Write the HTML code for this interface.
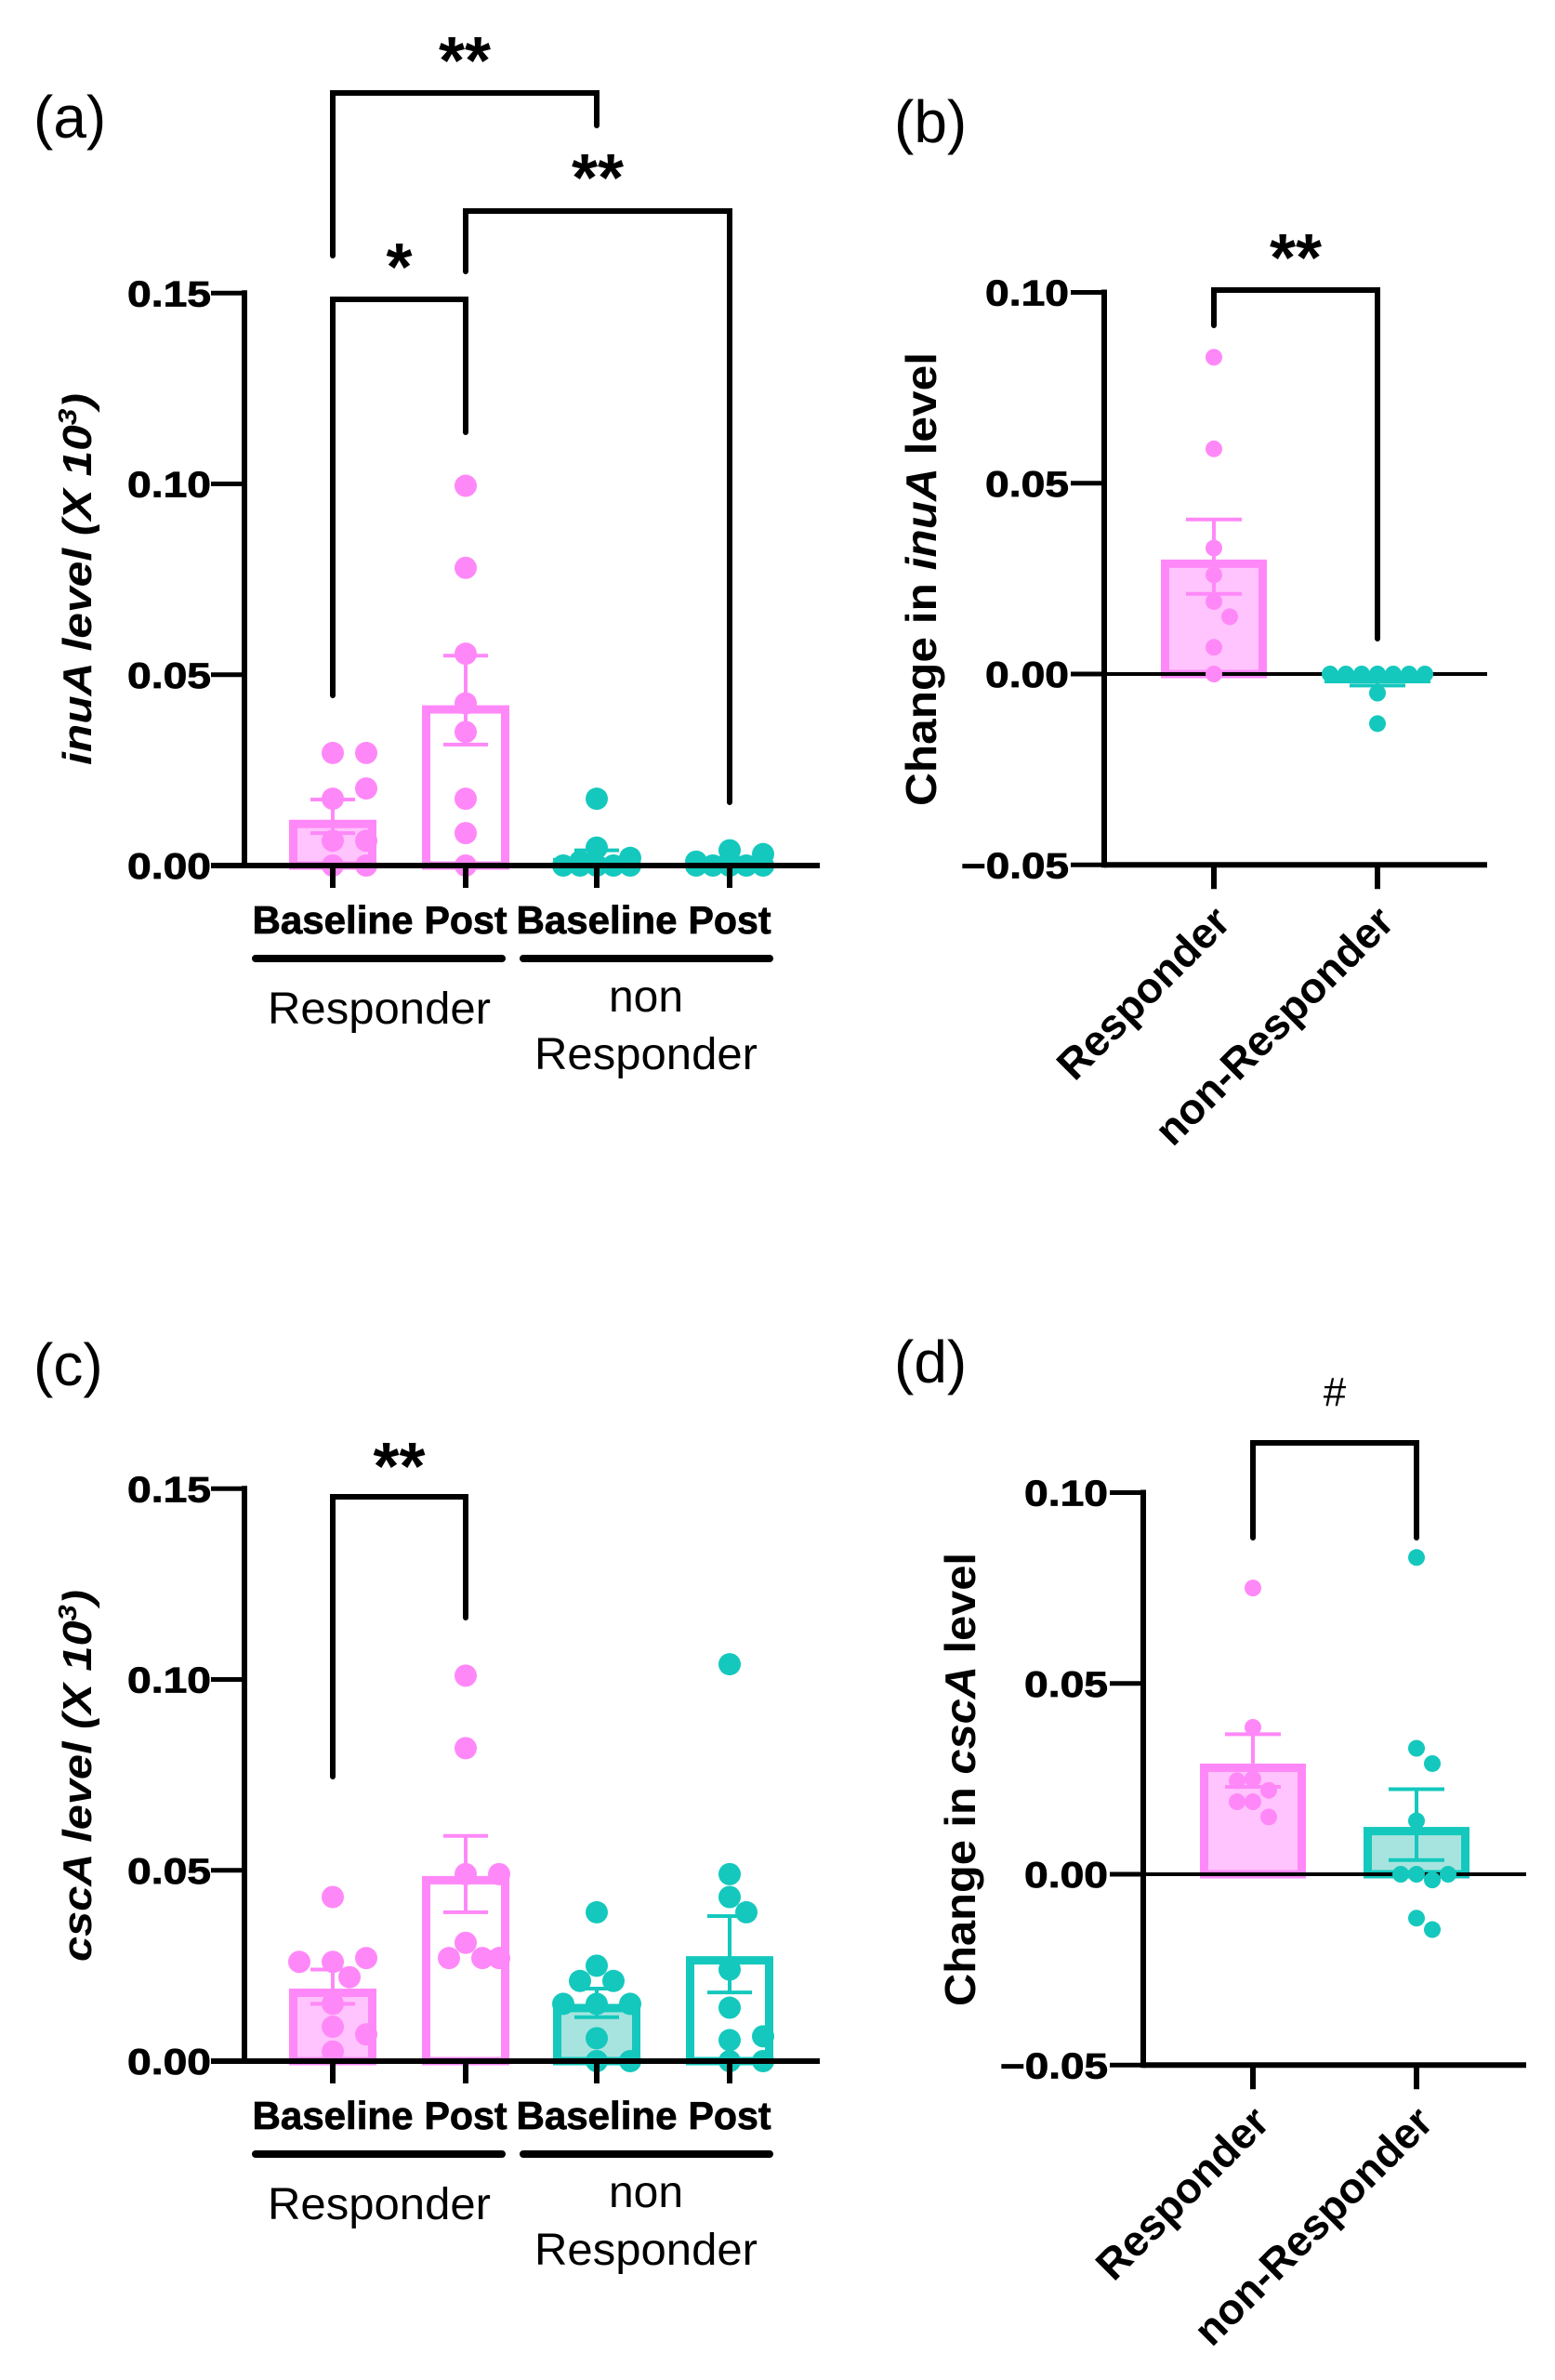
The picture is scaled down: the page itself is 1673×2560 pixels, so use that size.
<!DOCTYPE html>
<html><head><meta charset="utf-8"><style>
html,body{margin:0;padding:0;background:#fff;}
svg{display:block;font-family:"Liberation Sans",Arial,sans-serif;}
</style></head><body>
<svg id="fig" width="1673" height="2560" viewBox="0 0 1673 2560" xmlns="http://www.w3.org/2000/svg"></svg>
<script>
// ---------- Data ----------
const groupCats = ["Baseline","Post","Baseline","Post"];
const yTicksA = [0, 0.05, 0.10, 0.15];
const yTickLabelsA = ["0.00","0.05","0.10","0.15"];
const yTicksB = [-0.05, 0, 0.05, 0.10];
const yTickLabelsB = ["\u22120.05","0.00","0.05","0.10"];
const changeCats = ["Responder","non-Responder"];

// Panel a (inuA)
const aMeans = [0.012, 0.042, 0.002, 0.001];
const aErrHi = [0.0173, 0.055, 0.004, 0.002];
const aErrLo = [0.0085, 0.0317, 0.001, 0.0005];
const aPts0 = [0.0295, 0.0295, 0.0175, 0.0202, 0.0065, 0.0065, 0.0, 0.0];
const aPts1 = [0.0995, 0.078, 0.0555, 0.0425, 0.035, 0.0175, 0.0085, 0.0];
const aPts2 = [0.0175, 0.0047, 0.002, 0.001, 0, 0, 0, 0, 0, 0];
const aPts3 = [0.004, 0.003, 0.001, 0, 0, 0, 0, 0, 0, 0];

// Panel b (change in inuA)
const bMeans = [0.030, -0.001];
const bErrHi = [0.0405, 0.0];
const bErrLo = [0.021, -0.003];
const bPts0 = [0.083, 0.059, 0.033, 0.026, 0.019, 0.015, 0.007, 0.0];
const bPts1 = [0, 0, 0, 0, 0, 0, 0, 0, -0.005, -0.013];

// Panel c (cscA)
const cMeans = [0.019, 0.0485, 0.015, 0.0275];
const cErrHi = [0.024, 0.059, 0.019, 0.038];
const cErrLo = [0.015, 0.039, 0.0115, 0.018];
const cPts0 = [0.043, 0.026, 0.027, 0.026, 0.022, 0.015, 0.009, 0.007, 0.0025];
const cPts1 = [0.101, 0.082, 0.049, 0.049, 0.031, 0.027, 0.027, 0.027];
const cPts2 = [0.039, 0.025, 0.021, 0.021, 0.015, 0.015, 0.015, 0.006, 0.0, 0.0];
const cPts3 = [0.104, 0.049, 0.043, 0.039, 0.024, 0.014, 0.0055, 0.0065, 0.0, 0.0];

// Panel d (change in cscA)
const dMeans = [0.029, 0.0124];
const dErrHi = [0.0367, 0.0223];
const dErrLo = [0.0229, 0.0037];
const dPts0 = [0.075, 0.0385, 0.025, 0.022, 0.0245, 0.019, 0.019, 0.015];
const dPts1 = [0.083, 0.033, 0.029, 0.014, 0.0, -0.0015, 0.0, 0.0, -0.0115, -0.0145];

// ---------- Drawing ----------
const NS = "http://www.w3.org/2000/svg";
const svg = document.getElementById('fig');
const PINK = "#ff88f8", PINKF = "#ffc4fd", TEAL = "#14c8bd", TEALF = "#a8e4df";
function mk(tag, attrs, parent) {
  const e = document.createElementNS(NS, tag);
  for (const k in attrs) e.setAttribute(k, attrs[k]);
  (parent || svg).appendChild(e);
  return e;
}
function txt(s, attrs, parent) { const e = mk('text', attrs, parent); e.textContent = s; return e; }
function scaleY(y0px, pxPerUnit) { return v => y0px - v * pxPerUnit; }

function swarm(vals, cx, y, r, step, maxOff) {
  const placed = [];
  const offs = [0];
  for (let k = 1; k * step <= maxOff; k++) { offs.push(k * step, -k * step); }
  return vals.map(v => {
    const py = y(v);
    let best = 0, bestD = -1;
    for (const o of offs) {
      const d = placed.length ? Math.min(...placed.map(p => Math.hypot(p[0] - (cx + o), p[1] - py))) : 1e9;
      if (d >= 2 * r * 0.92) { best = o; bestD = 1e9; break; }
      if (d > bestD) { bestD = d; best = o; }
    }
    placed.push([cx + best, py]);
    return [cx + best, py];
  });
}

function drawBar(g, cx, w, y, mean, fill, stroke) {
  const y0 = y(0), ym = y(mean);
  const top = Math.min(y0, ym), h = Math.max(Math.abs(y0 - ym), 1);
  const sw = 9;
  const b = mk('rect', {x: cx - w/2 + sw/2, y: top + sw/2, width: w - sw, height: Math.max(h - sw/2, 1),
    fill: fill, stroke: stroke, 'stroke-width': sw}, g);
  
  
}
function drawErr(g, cx, y, hi, lo, color, cap) {
  const e = mk('g', {}, g);
  
  
  mk('line', {x1: cx, x2: cx, y1: y(hi), y2: y(lo), stroke: color, 'stroke-width': 4}, e);
  mk('line', {x1: cx - cap, x2: cx + cap, y1: y(hi), y2: y(hi), stroke: color, 'stroke-width': 4}, e);
  mk('line', {x1: cx - cap, x2: cx + cap, y1: y(lo), y2: y(lo), stroke: color, 'stroke-width': 4}, e);
}
function drawPts(g, vals, cx, y, color, r, step, maxOff) {
  swarm(vals, cx, y, r, step, maxOff).forEach(p => {
    const c = mk('circle', {cx: p[0], cy: p[1], r: r, fill: color}, g);
    
    
  });
}
function bracket(x1, x2, yTop, y1b, y2b, label, labelY, labelSize, weight) {
  const g = mk('g', {});
  
  
  mk('path', {d: `M${x1},${y1b} V${yTop} H${x2} V${y2b}`, fill: 'none', stroke: '#000', 'stroke-width': 6, 'stroke-linecap': 'round', 'stroke-linejoin': 'miter'}, g);
  const t = txt(label, {x: (x1 + x2)/2, y: labelY, 'text-anchor': 'middle', 'font-size': labelSize, 'font-weight': weight}, g);
  
  
}

function yAxis(g, ax, y, ticks, labels, labelRight) {
  mk('line', {x1: ax, x2: ax, y1: y(ticks[ticks.length-1]) - 3, y2: y(ticks[0]) + 3, stroke: '#000', 'stroke-width': 6}, g);
  ticks.forEach((t, i) => {
    mk('line', {x1: ax - 36, x2: ax, y1: y(t), y2: y(t), stroke: '#000', 'stroke-width': 5}, g);
    const w = labels[i].length > 4 ? 116 : 90;
    const l = txt(labels[i], {x: labelRight, y: y(t) + 14, 'text-anchor': 'end', 'font-size': 39, 'font-weight': 'bold', 'stroke': '#000', 'stroke-width': 0.8, textLength: w, lengthAdjust: 'spacingAndGlyphs'}, g);
    
    
  });
}

// Panel a / c (four groups)
function panelFour(name, y0, label, labelY, titleMain, titleY, means, hi, lo, pts) {
  const g = mk('g', {});
  
  
  const y = scaleY(y0, 4105);
  const ax = 263, xs = [358, 501, 642, 785];
  const fills = [PINKF, '#fff', TEALF, '#fff'];
  const strokes = [PINK, PINK, TEAL, TEAL];
  for (let i = 0; i < 4; i++) drawBar(g, xs[i], 94, y, means[i], fills[i], strokes[i]);
  for (let i = 0; i < 4; i++) {
    drawPts(g, pts[i], xs[i], y, strokes[i], 12, 18, 40);
    drawErr(g, xs[i], y, hi[i], lo[i], strokes[i], 24);
  }
  mk('line', {x1: ax - 36, x2: 882, y1: y(0), y2: y(0), stroke: '#000', 'stroke-width': 6}, g);
  xs.forEach(x => mk('line', {x1: x, x2: x, y1: y(0), y2: y(0) + 24, stroke: '#000', 'stroke-width': 6}, g));
  yAxis(g, ax, y, yTicksA, yTickLabelsA, 227);
  const widths = [173, 89, 173, 89];
  groupCats.forEach((c, i) => {
    const t = txt(c, {x: xs[i], y: y0 + 73, 'text-anchor': 'middle', 'font-size': 42, 'font-weight': 'bold', stroke: '#000', 'stroke-width': 0.8, textLength: widths[i], lengthAdjust: 'spacingAndGlyphs'}, g);
    
    
  });
  mk('line', {x1: 275, x2: 540, y1: y0 + 100, y2: y0 + 100, stroke: '#000', 'stroke-width': 8, 'stroke-linecap': 'round'}, g);
  mk('line', {x1: 563, x2: 828, y1: y0 + 100, y2: y0 + 100, stroke: '#000', 'stroke-width': 8, 'stroke-linecap': 'round'}, g);
  const r1 = txt('Responder', {x: 408, y: y0 + 170, 'text-anchor': 'middle', 'font-size': 48, textLength: 240, lengthAdjust: 'spacingAndGlyphs'}, g);
  
  
  const r2 = txt('non', {x: 695, y: y0 + 157, 'text-anchor': 'middle', 'font-size': 48, textLength: 80, lengthAdjust: 'spacingAndGlyphs'}, g);
  
  
  const r3 = txt('Responder', {x: 695, y: y0 + 219, 'text-anchor': 'middle', 'font-size': 48, textLength: 240, lengthAdjust: 'spacingAndGlyphs'}, g);
  
  
  const tt = txt('', {transform: `translate(98,${titleY}) rotate(-90)`, 'text-anchor': 'middle', 'font-size': 44, 'font-weight': 'bold', 'font-style': 'italic', textLength: 400, lengthAdjust: 'spacingAndGlyphs'}, g);
  
  
  tt.appendChild(document.createTextNode(titleMain + ' level (X 10'));
  const sup = mk('tspan', {'font-size': 28, dy: -16}, tt); sup.textContent = '3';
  const cl = mk('tspan', {dy: 16}, tt); cl.textContent = ')';
  const pl = txt(label, {x: 36, y: labelY, 'font-size': 64}, g);
  
  
}

// Panel b / d (two groups)
function panelTwo(name, dx, y0, label, labelX, labelY, titleMain, titleX, titleY, means, hi, lo, pts, fill2) {
  const g = mk('g', {});
  
  
  const y = scaleY(y0, 4105);
  const ax = 1188 + dx, xs = [1306 + dx, 1482 + dx], xEnd = 1600 + dx;
  const fills = [PINKF, fill2], strokes = [PINK, TEAL];
  for (let i = 0; i < 2; i++) drawBar(g, xs[i], 114, y, means[i], fills[i], strokes[i]);
  mk('line', {x1: ax - 36, x2: xEnd, y1: y(0), y2: y(0), stroke: '#000', 'stroke-width': 4}, g);
  for (let i = 0; i < 2; i++) {
    drawPts(g, pts[i], xs[i], y, strokes[i], 9, 17, 58);
    drawErr(g, xs[i], y, hi[i], lo[i], strokes[i], 30);
  }
  const yb = y(-0.05);
  mk('line', {x1: ax, x2: xEnd, y1: yb, y2: yb, stroke: '#000', 'stroke-width': 6}, g);
  xs.forEach(x => mk('line', {x1: x, x2: x, y1: yb, y2: yb + 26, stroke: '#000', 'stroke-width': 6}, g));
  yAxis(g, ax, y, yTicksB, yTickLabelsB, ax - 38);
  changeCats.forEach((c, i) => {
    const t = txt(c, {transform: `translate(${xs[i] + 20},${yb + 64}) rotate(-45)`, 'text-anchor': 'end', 'font-size': 46, 'font-weight': 'bold'}, g);
    
    
  });
  const tt = txt('', {transform: `translate(${titleX},${titleY}) rotate(-90)`, 'text-anchor': 'middle', 'font-size': 46, 'font-weight': 'bold', textLength: 488, lengthAdjust: 'spacingAndGlyphs'}, g);
  
  
  tt.appendChild(document.createTextNode('Change in '));
  const it = mk('tspan', {'font-style': 'italic'}, tt); it.textContent = titleMain;
  const rest = mk('tspan', {}, tt); rest.textContent = ' level';
  const pl = txt(label, {x: labelX, y: labelY, 'font-size': 64}, g);
  
  
}

panelFour('panel-a', 931, '(a)', 148, 'inuA', 623, aMeans, aErrHi, aErrLo, [aPts0, aPts1, aPts2, aPts3]);
bracket(358, 501, 322, 748, 465, '*', 312, 72, 'bold');
bracket(358, 642, 100, 275, 135, '**', 90, 72, 'bold');
bracket(501, 785, 227, 292, 863, '**', 216, 72, 'bold');

panelTwo('panel-b', 0, 725, '(b)', 962, 153, 'inuA', 1007, 623, bMeans, bErrHi, bErrLo, [bPts0, bPts1], '#fff');
bracket(1306, 1482, 312, 350, 687, '**', 302, 72, 'bold');

panelFour('panel-c', 2217, '(c)', 1490, 'cscA', 1910, cMeans, cErrHi, cErrLo, [cPts0, cPts1, cPts2, cPts3]);
bracket(358, 501, 1610, 1911, 1740, '**', 1602, 72, 'bold');

panelTwo('panel-d', 42, 2016, '(d)', 962, 1487, 'cscA', 1049, 1914, dMeans, dErrHi, dErrLo, [dPts0, dPts1], TEALF);
bracket(1348, 1524, 1552, 1654, 1654, '#', 1512, 44, 'normal');
</script>
</body></html>
